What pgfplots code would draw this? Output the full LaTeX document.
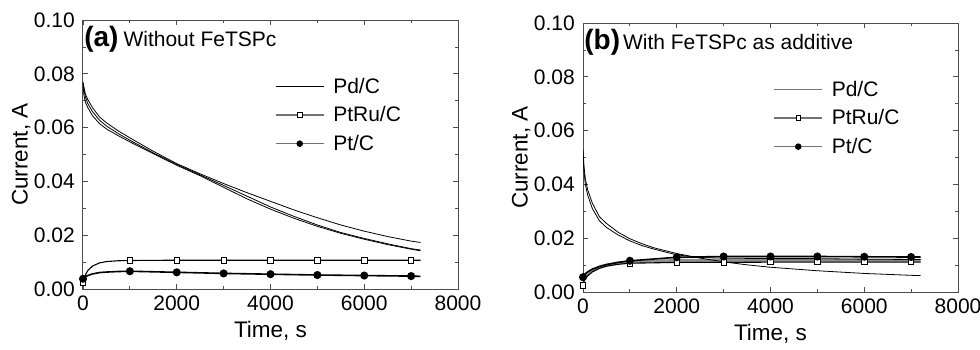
\documentclass[border=0pt]{standalone}
\usepackage{pgfplots}
\pgfplotsset{compat=1.18}
\usepackage{fontspec}
\setmainfont{Liberation Sans}
\newcommand{\fs}{\fontsize{21}{25}\selectfont}
\pgfplotsset{
  myaxis/.style={
    scale only axis, width=375pt, height=269pt, anchor=south west,
    xmin=0, xmax=8000, ymin=0, ymax=0.1,
    xtick={0,2000,4000,6000,8000}, ytick={0,0.02,0.04,0.06,0.08,0.1},
    minor x tick num=1, minor y tick num=1,
    tick align=inside, major tick length=5pt, minor tick length=3pt,
    axis line style={black!70, line width=1pt},
    every tick/.style={black!70, line width=0.8pt},
    /pgf/number format/assume math mode=true,
    /pgf/number format/1000 sep={},
    yticklabel style={/pgf/number format/fixed, /pgf/number format/fixed zerofill, /pgf/number format/precision=2, font=\fs, inner sep=0pt, xshift=-8pt},
    scaled y ticks=false,
    xticklabel style={font=\fs, inner sep=0pt, yshift=-7pt},
    xlabel={Time, s}, ylabel={Current, A},
    xlabel style={font=\fontsize{22.5}{26}\selectfont, at={(axis description cs:0.5,-0.155)}, anchor=center},
    ylabel style={font=\fontsize{22.5}{26}\selectfont, at={(axis description cs:-0.165,0.5)}, anchor=center, rotate=0},
    legend image code/.code={\draw[mark repeat=2,mark phase=2,#1] plot coordinates {(0pt,0pt) (24pt,0pt) (48pt,0pt)};},
    legend style={draw=none, fill=none, font=\fs, inner sep=0pt, row sep=10pt, nodes={inner sep=1pt}},
    legend cell align=left,
    /tikz/every odd column/.style={column sep=8pt},
  },
  pd/.style={black, line width=0.8pt, no markers},
  ptru/.style={black, line width=1.1pt, mark=square*, mark size=2.7pt, mark options={black, fill=white, line width=0.8pt, solid}},
  ptc/.style={black, line width=1.6pt, mark=*, mark size=3.2pt, mark options={black, fill=black, solid}},
}
\begin{document}
\begin{tikzpicture}
\useasboundingbox (0,0) rectangle (980pt,349pt);
% ---------------- (a)
\begin{axis}[myaxis, at={(83pt,60pt)},
  legend style={at={(axis description cs:0.512,0.647)}, anchor=west}]
\addlegendimage{black, line width=0.9pt}
\addlegendentry{Pd/C}
\addlegendimage{black!55, line width=1.1pt, mark=square*, mark size=2.3pt, mark options={black, fill=white, line width=0.6pt}}
\addlegendentry{PtRu/C}
\addlegendimage{black!55, line width=1.1pt, mark=*, mark size=2.7pt, mark options={black, fill=black}}
\addlegendentry{Pt/C}
\addplot[pd, forget plot] coordinates {(0,0.077) (20,0.075) (50,0.0725) (100,0.0705) (200,0.0675) (350,0.064) (500,0.0618) (750,0.0588) (1000,0.0562) (1500,0.0512) (2000,0.0466) (2500,0.0428) (3000,0.0392) (3500,0.0358) (4000,0.0326) (4500,0.0294) (5000,0.0265) (5500,0.0238) (6000,0.0215) (6500,0.0195) (7000,0.0178) (7200,0.0173)};
\addplot[pd, forget plot] coordinates {(0,0.0765) (20,0.074) (50,0.0715) (100,0.069) (200,0.066) (350,0.0628) (500,0.0606) (750,0.0578) (1000,0.0553) (1500,0.0506) (2000,0.0463) (2500,0.0424) (3000,0.0385) (3500,0.0345) (4000,0.0305) (4500,0.027) (5000,0.0238) (5500,0.021) (6000,0.0188) (6500,0.0168) (7000,0.015) (7200,0.0145)};
\addplot[pd, forget plot] coordinates {(0,0.0755) (20,0.072) (50,0.0695) (100,0.0675) (200,0.0645) (350,0.0615) (500,0.0595) (750,0.057) (1000,0.0547) (1500,0.0503) (2000,0.046) (2500,0.0421) (3000,0.0378) (3500,0.0335) (4000,0.0297) (4500,0.0263) (5000,0.0233) (5500,0.0207) (6000,0.0185) (6500,0.0165) (7000,0.0148) (7200,0.0142)};
\addplot[ptru, forget plot, mark indices={1,8,9,10,11,12,13,14}] coordinates {(0,0.0022) (30,0.0045) (100,0.0068) (200,0.0085) (350,0.0097) (500,0.0102) (750,0.0105) (1000,0.0106) (2000,0.0107) (3000,0.0107) (4000,0.0107) (5000,0.0107) (6000,0.0107) (7000,0.0107) (7200,0.0107)};
\addplot[ptc, forget plot, mark indices={1,8,9,10,11,12,13,14}] coordinates {(0,0.0038) (50,0.0045) (100,0.005) (200,0.0056) (350,0.0061) (500,0.0063) (750,0.0065) (1000,0.0066) (2000,0.0062) (3000,0.0058) (4000,0.0055) (5000,0.0052) (6000,0.005) (7000,0.0048) (7200,0.0047)};
\node[anchor=base west, inner sep=0pt] at (axis description cs:0.003,0.903) {{\fontsize{28}{30}\selectfont\bfseries (a)}\hspace{5pt}\fs Without FeTSPc};
\end{axis}
% ---------------- (b)
\begin{axis}[myaxis, at={(583pt,57pt)},
  legend style={at={(axis description cs:0.508,0.647)}, anchor=west}]
\addlegendimage{black!55, line width=0.9pt}
\addlegendentry{Pd/C}
\addlegendimage{black!55, line width=1.1pt, mark=square*, mark size=2.3pt, mark options={black, fill=white, line width=0.6pt}}
\addlegendentry{PtRu/C}
\addlegendimage{black!55, line width=1.1pt, mark=*, mark size=2.7pt, mark options={black, fill=black}}
\addlegendentry{Pt/C}
\addplot[black!45, line width=3pt, forget plot] coordinates {(0,0.004) (30,0.0055) (100,0.0068) (200,0.008) (350,0.0092) (500,0.01) (750,0.0108) (1000,0.0112) (2000,0.0117) (3000,0.0118) (4000,0.0118) (5000,0.0118) (6000,0.0118) (7000,0.0118) (7200,0.0118)};
\addplot[pd, forget plot] coordinates {(0,0.053) (20,0.047) (50,0.042) (100,0.038) (200,0.033) (350,0.028) (500,0.0255) (750,0.0222) (1000,0.0198) (1250,0.018) (1500,0.0165) (2000,0.0143) (2500,0.0126) (3000,0.0112) (3500,0.0101) (4000,0.0092) (5000,0.0079) (6000,0.0069) (7000,0.0062) (7200,0.0061)};
\addplot[pd, forget plot] coordinates {(0,0.051) (20,0.045) (50,0.040) (100,0.036) (200,0.031) (350,0.0265) (500,0.024) (750,0.0212) (1000,0.019) (1250,0.0173) (1500,0.016) (2000,0.0138) (2500,0.0128) (3000,0.0126) (4000,0.0124) (5000,0.0124) (6000,0.0122) (7000,0.0121) (7200,0.0121)};
\addplot[ptru, forget plot, mark indices={1,8,9,10,11,12,13,14}] coordinates {(0,0.0025) (30,0.0045) (100,0.006) (200,0.0075) (350,0.0088) (500,0.0096) (750,0.0103) (1000,0.0107) (2000,0.011) (3000,0.011) (4000,0.0111) (5000,0.0111) (6000,0.0111) (7000,0.0111) (7200,0.0111)};
\addplot[ptc, forget plot, mark indices={1,8,9,10,11,12,13,14}] coordinates {(0,0.0055) (30,0.0065) (100,0.0075) (200,0.0085) (350,0.0095) (500,0.0102) (750,0.011) (1000,0.0116) (2000,0.0129) (3000,0.0132) (4000,0.0132) (5000,0.0132) (6000,0.0131) (7000,0.013) (7200,0.013)};
\node[anchor=base west, inner sep=0pt] at (axis description cs:0.003,0.903) {{\fontsize{28}{30}\selectfont\bfseries (b)}\hspace{3pt}\fs With FeTSPc as additive};
\end{axis}
\end{tikzpicture}
\end{document}
